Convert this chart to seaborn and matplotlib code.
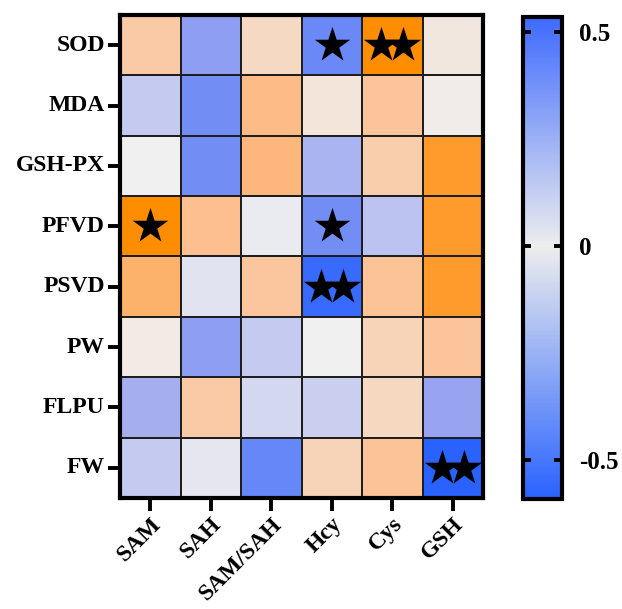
import numpy as np
import pandas as pd
import matplotlib
matplotlib.use("Agg")
import matplotlib.pyplot as plt
import seaborn as sns
from matplotlib.colors import LinearSegmentedColormap, Normalize
from matplotlib.cm import ScalarMappable

rows = ["SOD", "MDA", "GSH-PX", "PFVD", "PSVD", "PW", "FLPU", "FW"]
cols = ["SAM", "SAH", "SAM/SAH", "Hcy", "Cys", "GSH"]

sod   = [0.20, -0.33, 0.12, -0.42, 0.53, 0.05]
mda   = [-0.15, -0.40, 0.28, 0.06, 0.23, 0.02]
gshpx = [0.00, -0.40, 0.30, -0.24, 0.18, 0.45]
pfvd  = [0.53, 0.26, -0.02, -0.40, -0.18, 0.45]
psvd  = [0.33, -0.05, 0.22, -0.55, 0.24, 0.45]
pw    = [0.03, -0.33, -0.15, 0.00, 0.15, 0.23]
flpu  = [-0.26, 0.20, -0.10, -0.13, 0.13, -0.30]
fw    = [-0.15, -0.04, -0.43, 0.15, 0.24, -0.59]

# significance stars: (row, column, number of stars)
sig_rows = ["SOD", "SOD", "PFVD", "PFVD", "PSVD", "FW"]
sig_cols = ["Hcy", "Cys", "SAM", "Hcy", "Hcy", "GSH"]
sig_n = [1, 2, 1, 1, 2, 2]

cbar_ticks = [-0.5, 0, 0.5]
cbar_ticklabels = ["-0.5", "0", "0.5"]

vmin, vmax = -0.59, 0.535

df = pd.DataFrame([sod, mda, gshpx, pfvd, psvd, pw, flpu, fw], index=rows, columns=cols)

sns.set_theme(style="white")
plt.rcParams["font.family"] = ["Liberation Serif", "DejaVu Serif"]
plt.rcParams["font.weight"] = "bold"
plt.rcParams["text.color"] = "black"
plt.rcParams["xtick.color"] = "black"
plt.rcParams["ytick.color"] = "black"
plt.rcParams["xtick.labelcolor"] = "black"
plt.rcParams["ytick.labelcolor"] = "black"
plt.rcParams["axes.axisbelow"] = False

def pos(v):
    return (v - vmin) / (vmax - vmin)

heat_cmap = LinearSegmentedColormap.from_list(
    "heat",
    [(0.0, "#2962FF"), (pos(-0.3), "#99A5F0"), (pos(0.0), "#F0F0F0"),
     (pos(0.27), "#FDBD8C"), (1.0, "#FF8C00")])
cbar_cmap = LinearSegmentedColormap.from_list(
    "cb", [(0.0, "#2962FF"), (pos(0.0), "#EDEDED"), (1.0, "#3F6BFF")])

fig = plt.figure(figsize=(6.22, 6.09), dpi=100)
ax = fig.add_axes([0.193, 0.1823, 0.5836, 0.7931])
cax = fig.add_axes([0.8408, 0.1806, 0.0627, 0.7915])

sns.heatmap(df, ax=ax, cmap=heat_cmap, vmin=vmin, vmax=vmax, cbar=False,
            linewidths=1.2, linecolor="#1e1e1e")

for sp in ax.spines.values():
    sp.set_visible(True)
    sp.set_linewidth(3)
    sp.set_color("black")

ax.tick_params(axis="both", which="both", length=9, width=2.8, color="black",
               direction="out", pad=2, bottom=True, left=True)
ax.set_yticklabels(rows, rotation=0, fontsize=17, fontweight="bold", color="black")
ax.set_xticklabels(cols, rotation=45, ha="right", rotation_mode="anchor",
                   fontsize=17, fontweight="bold", color="black")
ax.set_xlabel("")
ax.set_ylabel("")

off = 0.18
for r, c, n in zip(sig_rows, sig_cols, sig_n):
    yi = rows.index(r) + 0.5
    xi = cols.index(c) + 0.5
    xs = [xi] if n == 1 else [xi - off, xi + off]
    ax.scatter(xs, [yi] * len(xs), marker="*", s=720, c="black", linewidths=0, zorder=5)

sm = ScalarMappable(norm=Normalize(vmin=vmin, vmax=vmax), cmap=cbar_cmap)
cb = fig.colorbar(sm, cax=cax)
cb.set_ticks(cbar_ticks)
cb.set_ticklabels(cbar_ticklabels)
cb.outline.set_linewidth(3)
cb.outline.set_edgecolor("black")
cax.set_axisbelow(False)
cax.tick_params(axis="y", direction="in", length=6, width=2.8, color="black",
                left=True, right=True, labelsize=18, pad=12, labelcolor="black")
for t in cax.get_yticklabels():
    t.set_fontweight("bold")

fig.savefig("out.png", dpi=100, facecolor="white")
